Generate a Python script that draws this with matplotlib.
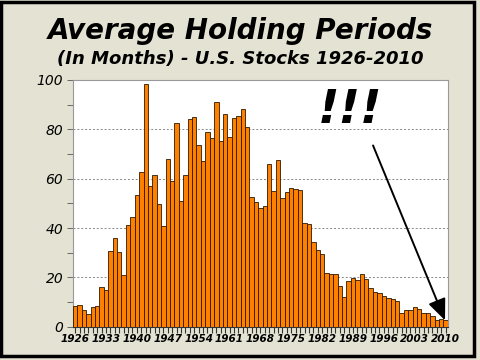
import numpy as np
import matplotlib.pyplot as plt
from matplotlib.patches import Rectangle
from matplotlib.ticker import MultipleLocator

years = list(range(1926, 2011))
months = [8.5, 8.9, 6.9, 5.3, 8.0, 8.5, 16.2, 14.8, 30.9, 35.9,
          30.5, 21.2, 41.4, 44.4, 53.5, 62.7, 98.4, 57.0, 61.3, 49.7,
          41.0, 67.8, 59.1, 82.7, 50.9, 61.5, 84.1, 85.0, 73.6, 67.3,
          79.0, 76.4, 91.2, 75.2, 86.0, 77.0, 84.5, 85.3, 88.4, 80.9,
          52.7, 50.7, 48.1, 48.8, 65.9, 54.9, 67.5, 52.0, 54.7, 56.3,
          55.9, 55.3, 42.0, 41.6, 34.3, 31.3, 29.4, 22.0, 21.6, 21.6,
          16.6, 12.1, 18.6, 19.6, 18.9, 21.3, 19.4, 15.7, 14.2, 13.6,
          12.6, 11.6, 11.3, 10.3, 5.8, 6.7, 6.7, 8.0, 7.2, 5.8,
          5.8, 4.3, 2.6, 3.0, 2.6]
tick_years = list(range(1926, 2011, 7))

bg = '#E4E2D2'
fig = plt.figure(figsize=(4.8, 3.6), dpi=100, facecolor=bg)
# outer frame
fig.patches.append(Rectangle((0.003, 0.01), 0.985, 0.984, transform=fig.transFigure,
                             fill=False, edgecolor='black', linewidth=2.5))

ax = fig.add_axes([0.152, 0.092, 0.781, 0.686])
ax.set_facecolor('white')
ax.bar(years, months, width=1.0, color='#FF8000', edgecolor='#2a1a00',
       linewidth=0.6, zorder=3)

ax.set_xlim(1925.5, 2010.5)
ax.set_ylim(0, 100)
ax.set_xticks(tick_years)
ax.set_xticklabels([str(y) for y in tick_years], fontsize=7.5,
                   fontweight='bold', fontstyle='italic')
ax.xaxis.set_minor_locator(MultipleLocator(1))
ax.set_yticks(range(0, 101, 20))
ax.set_yticklabels([str(v) for v in range(0, 101, 20)], fontsize=10,
                   fontstyle='italic')
ax.yaxis.set_minor_locator(MultipleLocator(10))
ax.tick_params(axis='x', which='both', length=4, width=0.8, pad=1, color='#333333')
ax.tick_params(axis='y', which='both', length=4, width=0.6, pad=3, color='#555555')
for y in range(20, 100, 20):
    ax.axhline(y, color='#888888', linestyle=(0, (2, 2)), linewidth=0.7, zorder=1)
for s in ['top', 'right', 'left']:
    ax.spines[s].set_color('#999999')
ax.spines['bottom'].set_color('#333333')

ax.text(1988.3, 87.5, '!!!', fontsize=34, fontweight='bold', fontstyle='italic',
        ha='center', va='center', zorder=5)
ax.annotate('', xy=(2010.1, 1.6), xytext=(1993.3, 74.5),
            arrowprops=dict(arrowstyle='-|>,head_length=1.3,head_width=0.55',
                            color='black', linewidth=1.4), zorder=5)

fig.text(0.5, 0.915, 'Average Holding Periods', ha='center', va='center',
         fontsize=20, fontweight='bold', fontstyle='italic')
fig.text(0.5, 0.836, '(In Months) - U.S. Stocks 1926-2010', ha='center', va='center',
         fontsize=13, fontweight='bold', fontstyle='italic')

fig.savefig('out.png', dpi=100, facecolor=bg)
